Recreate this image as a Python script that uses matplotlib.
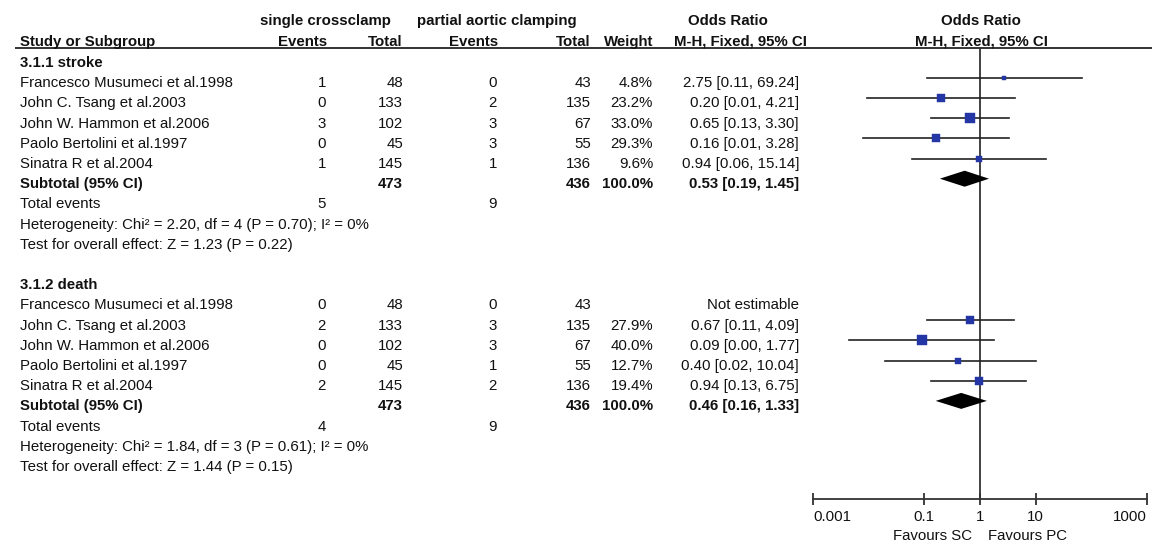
import matplotlib
matplotlib.use("Agg")
import matplotlib.pyplot as plt
from matplotlib import font_manager
import numpy as np

# ---------------- data ----------------
studies = ["Francesco Musumeci et al.1998", "John C. Tsang et al.2003",
           "John W. Hammon et al.2006", "Paolo Bertolini et al.1997",
           "Sinatra R et al.2004"]
sc_total = [48, 133, 102, 45, 145]
pc_total = [43, 135, 67, 55, 136]

stroke_sc_events = [1, 0, 3, 0, 1]
stroke_pc_events = [0, 2, 3, 3, 1]
stroke_weight = [4.8, 23.2, 33.0, 29.3, 9.6]
stroke_or = [2.75, 0.20, 0.65, 0.16, 0.94]
stroke_lo = [0.11, 0.0093, 0.13, 0.0080, 0.06]
stroke_hi = [69.24, 4.21, 3.30, 3.28, 15.14]
stroke_subtotal = [0.53, 0.19, 1.45]
stroke_subtotal_weight = 100.0
stroke_stats = ["Heterogeneity: Chi\u00b2 = 2.20, df = 4 (P = 0.70); I\u00b2 = 0%",
                "Test for overall effect: Z = 1.23 (P = 0.22)"]

death_sc_events = [0, 2, 0, 0, 2]
death_pc_events = [0, 3, 3, 1, 2]
death_weight = [None, 27.9, 40.0, 12.7, 19.4]
death_or = [None, 0.67, 0.09, 0.40, 0.94]
death_lo = [None, 0.11, 0.0044, 0.02, 0.13]
death_hi = [None, 4.09, 1.77, 10.04, 6.75]
death_subtotal = [0.46, 0.16, 1.33]
death_subtotal_weight = 100.0
death_stats = ["Heterogeneity: Chi\u00b2 = 1.84, df = 3 (P = 0.61); I\u00b2 = 0%",
               "Test for overall effect: Z = 1.44 (P = 0.15)"]

sections = [
    ("3.1.1 stroke", stroke_sc_events, stroke_pc_events, stroke_weight,
     stroke_or, stroke_lo, stroke_hi, stroke_subtotal, stroke_subtotal_weight,
     stroke_stats),
    ("3.1.2 death", death_sc_events, death_pc_events, death_weight,
     death_or, death_lo, death_hi, death_subtotal, death_subtotal_weight,
     death_stats),
]

axis_ticks = [0.001, 0.1, 1, 10, 1000]
axis_tick_labels = ["0.001", "0.1", "1", "10", "1000"]

# ---------------- style ----------------
def pick_font(candidates):
    for name in candidates:
        try:
            font_manager.findfont(font_manager.FontProperties(family=name),
                                  fallback_to_default=False)
            return name
        except Exception:
            continue
    return "DejaVu Sans"


plt.rcParams["font.family"] = [pick_font(["Liberation Sans", "Arial", "Roboto"]),
                               "DejaVu Sans"]
FS = 10.8
TXT = "#111111"
BLUE = "#2436a6"
W, H = 1152, 544

fig = plt.figure(figsize=(W / 100, H / 100), dpi=100, facecolor="white")
tab = fig.add_axes([0, 0, 1, 1])
tab.set_xlim(0, W)
tab.set_ylim(H, 0)
tab.axis("off")

# column anchors (pixels)
X_NAME = 20
X_SC_EV = 326
X_SC_TOT = 403
X_PC_EV = 497
X_PC_TOT = 591
X_WEIGHT = 653
X_OR = 799
X_FOREST = 981

ROW0 = 62.0
ROW_STEP = 20.2
BASE_OFF = 5.0      # text baseline below row centre
MARK_OFF = -4.5     # forest marks sit slightly above the row centre


def row_y(i):
    return ROW0 + i * ROW_STEP


def put(x, i, s, ha="left", bold=False):
    tab.text(x, row_y(i) + BASE_OFF, s, ha=ha, va="baseline", fontsize=FS,
             color=TXT, fontweight="bold" if bold else "normal")


def head(x, y, s, ha):
    tab.text(x, y, s, ha=ha, va="baseline", fontsize=FS, color=TXT,
             fontweight="bold")


# column headers
head(325, 25, "single crossclamp", "center")
head(497, 25, "partial aortic clamping", "center")
head(728, 25, "Odds Ratio", "center")
head(X_FOREST, 25, "Odds Ratio", "center")
head(X_NAME, 46, "Study or Subgroup", "left")
head(X_SC_EV + 1, 46, "Events", "right")
head(X_SC_TOT, 46, "Total", "right")
head(X_PC_EV + 1, 46, "Events", "right")
head(X_PC_TOT, 46, "Total", "right")
head(X_WEIGHT, 46, "Weight", "right")
head(807, 46, "M-H, Fixed, 95% CI", "right")
head(X_FOREST, 46, "M-H, Fixed, 95% CI", "center")
tab.plot([15, W], [48, 48], color="#333333", lw=1.4, solid_capstyle="butt")

# forest axes on a log scale, rows share the table's pixel rows
AX_L, AX_R, AX_TOP, AX_BOT = 813, 1147, 48, 499
fa = fig.add_axes([AX_L / W, (H - AX_BOT) / H, (AX_R - AX_L) / W,
                   (AX_BOT - AX_TOP) / H])
fa.set_xscale("log")
fa.set_xlim(axis_ticks[0], axis_ticks[-1])
fa.set_ylim(AX_BOT, AX_TOP)
fa.patch.set_alpha(0)
for side in ["top", "left", "right"]:
    fa.spines[side].set_visible(False)
fa.spines["bottom"].set_color("#333333")
fa.spines["bottom"].set_linewidth(1.3)
fa.set_yticks([])
fa.set_xticks(axis_ticks)
fa.set_xticklabels(axis_tick_labels, fontsize=FS, color=TXT)
fa.xaxis.set_minor_locator(matplotlib.ticker.NullLocator())
fa.tick_params(axis="x", direction="inout", length=8, width=1.3,
               color="#333333", pad=4)
labels = fa.get_xticklabels()
labels[0].set_horizontalalignment("left")
labels[-1].set_horizontalalignment("right")
fa.axvline(1, color="#333333", lw=1.3, zorder=1)

tab.text(972, 540, "Favours SC", ha="right", va="baseline", fontsize=FS, color=TXT)
tab.text(988, 540, "Favours PC", ha="left", va="baseline", fontsize=FS, color=TXT)

row = 0
for (title, sc_ev, pc_ev, wts, ors, los, his, sub, sub_w, stats) in sections:
    put(X_NAME, row, title, bold=True)
    row += 1
    for k, name in enumerate(studies):
        put(X_NAME, row, name)
        put(X_SC_EV, row, str(sc_ev[k]), ha="right")
        put(X_SC_TOT, row, str(sc_total[k]), ha="right")
        put(X_PC_EV, row, str(pc_ev[k]), ha="right")
        put(X_PC_TOT, row, str(pc_total[k]), ha="right")
        if ors[k] is None:
            put(X_OR, row, "Not estimable", ha="right")
        else:
            put(X_WEIGHT, row, f"{wts[k]:.1f}%", ha="right")
            put(X_OR, row, f"{ors[k]:.2f} [{los[k]:.2f}, {his[k]:.2f}]", ha="right")
            ym = row_y(row) + MARK_OFF
            fa.plot([los[k], his[k]], [ym, ym], color="#222222", lw=1.2, zorder=2)
            side_px = max(3.5, 1.65 * np.sqrt(wts[k]))
            fa.plot([ors[k]], [ym], marker="s", ms=side_px * 0.72, color=BLUE,
                    mec=BLUE, mew=0.3, zorder=3)
        row += 1
    # pooled estimate
    put(X_NAME, row, "Subtotal (95% CI)", bold=True)
    put(X_SC_TOT, row, str(sum(sc_total)), ha="right", bold=True)
    put(X_PC_TOT, row, str(sum(pc_total)), ha="right", bold=True)
    put(X_WEIGHT, row, f"{sub_w:.1f}%", ha="right", bold=True)
    put(X_OR, row, f"{sub[0]:.2f} [{sub[1]:.2f}, {sub[2]:.2f}]", ha="right", bold=True)
    ym = row_y(row) + MARK_OFF
    half = 8.0
    fa.fill([sub[1], sub[0], sub[2], sub[0]], [ym, ym - half, ym, ym + half],
            color="black", zorder=4, lw=0)
    row += 1
    put(X_NAME, row, "Total events")
    put(X_SC_EV, row, str(sum(sc_ev)), ha="right")
    put(X_PC_EV, row, str(sum(pc_ev)), ha="right")
    row += 1
    for s in stats:
        put(X_NAME, row, s)
        row += 1
    row += 1

fig.savefig("out.png", dpi=100, facecolor="white")
